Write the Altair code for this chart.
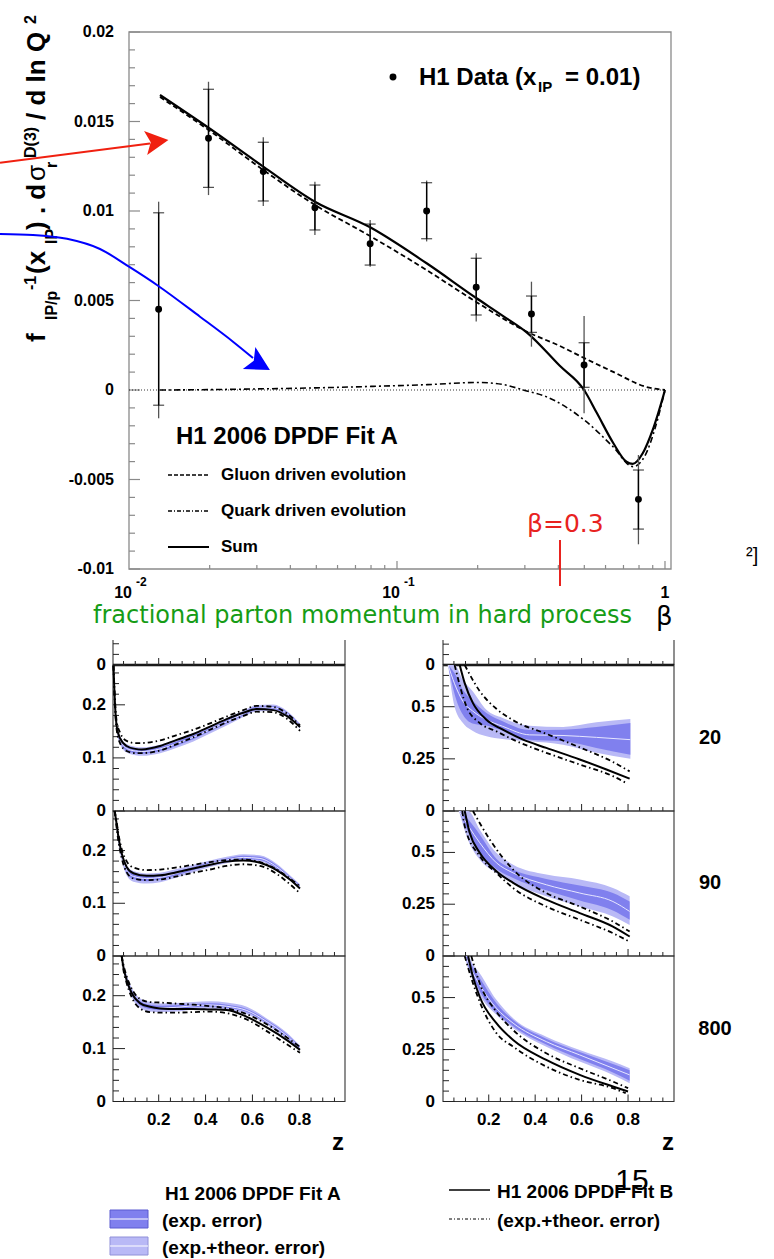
import altair as alt
import pandas as pd

# ------------------------------------------------------------------
# Upper figure: f_IP/p^-1 d sigma_r^D(3) / d ln Q^2 versus beta (x_IP = 0.01)
# ------------------------------------------------------------------
beta_data = [0.0129, 0.0198, 0.0317, 0.0494, 0.0794, 0.129, 0.1975, 0.3175, 0.499, 0.796]
slope_data = [0.00451, 0.01406, 0.01220, 0.01018, 0.00817, 0.01000, 0.00574, 0.00425, 0.00140, -0.00611]
stat_low = [-0.00085, 0.01132, 0.01056, 0.00894, 0.00698, 0.00845, 0.00419, 0.00322, 0.00015, -0.00777]
stat_high = [0.00990, 0.01680, 0.01384, 0.01145, 0.00927, 0.01158, 0.00736, 0.00525, 0.00264, -0.00447]
total_low = [-0.00158, 0.01089, 0.01028, 0.00866, 0.00689, 0.00830, 0.00382, 0.00242, -0.00130, -0.00862]
total_high = [0.01052, 0.01722, 0.01412, 0.01164, 0.00950, 0.01170, 0.00764, 0.00605, 0.00413, -0.00363]

beta_sum = [0.01305, 0.0198, 0.0317, 0.0494, 0.0794, 0.129, 0.1975, 0.249, 0.307, 0.405,
            0.499, 0.557, 0.641, 0.718, 0.758, 0.827, 0.90, 1.0]
slope_sum = [0.01648, 0.01465, 0.01248, 0.01052, 0.00909, 0.00708, 0.00514, 0.00413, 0.00318, 0.00135,
             0.0, -0.00129, -0.00296, -0.00401, -0.00413, -0.00352, -0.00223, 0.0]
beta_gluon = [0.01305, 0.0198, 0.0317, 0.0494, 0.0794, 0.129, 0.1975, 0.307, 0.405, 0.499, 0.641, 0.853, 1.0]
slope_gluon = [0.01637, 0.01453, 0.01229, 0.01034, 0.00860, 0.00670, 0.00492, 0.00324, 0.00246,
               0.00179, 0.00101, 0.00017, 0.0]
beta_quark = [0.01305, 0.02, 0.03, 0.05, 0.08, 0.13, 0.2, 0.25, 0.296, 0.36, 0.5, 0.64, 0.76, 0.84, 0.92, 1.0]
slope_quark = [0.0, 0.00002, 0.00006, 0.00012, 0.0002, 0.0003, 0.00042, 0.0003, 0.0, -0.00037,
               -0.00168, -0.00317, -0.00428, -0.0037, -0.0021, 0.0]

# ------------------------------------------------------------------
# Lower figure: z*Sigma (left) and z*g (right) at Q^2 = 20, 90, 800 GeV^2
# Fit A: central value with exp. and exp.+theor. half widths (singlet)
# ------------------------------------------------------------------
S20_z = [0.007, 0.014, 0.021, 0.035, 0.063, 0.1, 0.128, 0.206, 0.277, 0.348, 0.419, 0.49, 0.561, 0.618, 0.689, 0.746, 0.803]
S20_fitA = [0.274, 0.195, 0.157, 0.134, 0.118, 0.113, 0.112, 0.117, 0.127, 0.139, 0.153, 0.168, 0.183, 0.1935, 0.1946, 0.184, 0.160]
S20_tot = [0.001, 0.006, 0.007, 0.008, 0.008, 0.008, 0.008, 0.008, 0.008, 0.008, 0.007, 0.007, 0.006, 0.006, 0.006, 0.005, 0.005]
S20_exp = [0.001, 0.003, 0.003, 0.004, 0.004, 0.004, 0.004, 0.004, 0.004, 0.004, 0.003, 0.003, 0.003, 0.003, 0.003, 0.003, 0.003]
S20_fitB = [0.274, 0.197, 0.159, 0.137, 0.1225, 0.117, 0.116, 0.1225, 0.134, 0.145, 0.159, 0.173, 0.185, 0.192, 0.190, 0.179, 0.158]
S20_fitB_up = [0.274, 0.205, 0.168, 0.148, 0.132, 0.128, 0.128, 0.133, 0.143, 0.153, 0.165, 0.178, 0.19, 0.198, 0.196, 0.184, 0.161]
S20_fitB_dn = [0.274, 0.19, 0.152, 0.128, 0.113, 0.109, 0.109, 0.114, 0.126, 0.139, 0.153, 0.167, 0.179, 0.187, 0.186, 0.174, 0.151]

S90_z = [0.012, 0.018, 0.028, 0.042, 0.063, 0.092, 0.149, 0.206, 0.277, 0.348, 0.419, 0.49, 0.561, 0.632, 0.703, 0.76, 0.803]
S90_fitA = [0.275, 0.256, 0.222, 0.19, 0.163, 0.151, 0.147, 0.149, 0.157, 0.166, 0.175, 0.182, 0.187, 0.185, 0.169, 0.148, 0.131]
S90_tot = [0.0, 0.005, 0.008, 0.009, 0.01, 0.01, 0.0095, 0.009, 0.008, 0.007, 0.006, 0.006, 0.006, 0.006, 0.006, 0.005, 0.005]
S90_exp = [0.0, 0.003, 0.004, 0.004, 0.005, 0.005, 0.005, 0.004, 0.004, 0.003, 0.003, 0.003, 0.003, 0.003, 0.003, 0.003, 0.003]
S90_fitB = [0.275, 0.258, 0.226, 0.195, 0.169, 0.157, 0.152, 0.153, 0.159, 0.166, 0.173, 0.179, 0.181, 0.177, 0.163, 0.145, 0.128]
S90_fitB_up = [0.275, 0.262, 0.232, 0.203, 0.18, 0.168, 0.163, 0.164, 0.168, 0.173, 0.178, 0.182, 0.183, 0.178, 0.164, 0.147, 0.132]
S90_fitB_dn = [0.275, 0.252, 0.218, 0.186, 0.159, 0.147, 0.144, 0.145, 0.151, 0.158, 0.164, 0.171, 0.174, 0.171, 0.156, 0.136, 0.119]

S800_z = [0.042, 0.049, 0.063, 0.085, 0.12, 0.163, 0.206, 0.277, 0.348, 0.419, 0.49, 0.576, 0.661, 0.747, 0.803]
S800_fitA = [0.275, 0.256, 0.232, 0.206, 0.186, 0.179, 0.177, 0.178, 0.181, 0.1825, 0.18, 0.172, 0.151, 0.124, 0.1008]
S800_tot = [0.0, 0.006, 0.008, 0.009, 0.009, 0.009, 0.008, 0.008, 0.007, 0.007, 0.007, 0.007, 0.006, 0.006, 0.005]
S800_exp = [0.0, 0.003, 0.004, 0.004, 0.004, 0.004, 0.004, 0.004, 0.003, 0.003, 0.003, 0.003, 0.003, 0.003, 0.003]
S800_fitB = [0.275, 0.255, 0.23, 0.2045, 0.186, 0.179, 0.176, 0.175, 0.175, 0.174, 0.173, 0.16, 0.14, 0.116, 0.0976]
S800_fitB_up = [0.275, 0.26, 0.237, 0.213, 0.194, 0.188, 0.187, 0.185, 0.183, 0.18, 0.176, 0.165, 0.146, 0.121, 0.103]
S800_fitB_dn = [0.275, 0.25, 0.224, 0.197, 0.176, 0.169, 0.168, 0.168, 0.169, 0.17, 0.167, 0.155, 0.133, 0.108, 0.092]

# gluon: Fit A band edges, Fit B central value and its error curves
G20_zA = [0.025, 0.053, 0.089, 0.13, 0.19, 0.26, 0.376, 0.52, 0.664, 0.81]
G20_fitA = [0.70, 0.61, 0.525, 0.48, 0.4376, 0.406, 0.365, 0.362, 0.353, 0.342]
G20_tot_hi = [0.70, 0.70, 0.628, 0.575, 0.485, 0.446, 0.409, 0.403, 0.425, 0.441]
G20_tot_lo = [0.70, 0.50, 0.422, 0.385, 0.358, 0.345, 0.334, 0.318, 0.279, 0.25]
G20_exp_hi = [0.70, 0.66, 0.58, 0.53, 0.47, 0.43, 0.388, 0.39, 0.403, 0.422]
G20_exp_lo = [0.70, 0.56, 0.461, 0.42, 0.41, 0.385, 0.342, 0.334, 0.3025, 0.27]
G20_zB = [0.075, 0.0965, 0.132, 0.19, 0.261, 0.348, 0.448, 0.592, 0.707, 0.807]
G20_fitB = [0.70, 0.613, 0.517, 0.4376, 0.39, 0.342, 0.3025, 0.247, 0.199, 0.155]
G20_zup = [0.0965, 0.161, 0.233, 0.305, 0.448, 0.592, 0.735, 0.807]
G20_fitB_up = [0.70, 0.575, 0.49, 0.435, 0.37, 0.305, 0.235, 0.19]
G20_zdn = [0.053, 0.104, 0.161, 0.233, 0.305, 0.448, 0.592, 0.735, 0.79]
G20_fitB_dn = [0.70, 0.501, 0.422, 0.382, 0.342, 0.279, 0.223, 0.167, 0.1355]

G90_zA = [0.072, 0.111, 0.161, 0.233, 0.305, 0.448, 0.592, 0.735, 0.807]
G90_fitA = [0.70, 0.63, 0.547, 0.45, 0.401, 0.344, 0.304, 0.263, 0.215]
G90_tot_hi = [0.70, 0.70, 0.611, 0.498, 0.441, 0.393, 0.369, 0.328, 0.288]
G90_tot_lo = [0.70, 0.56, 0.466, 0.401, 0.353, 0.288, 0.239, 0.191, 0.15]
G90_exp_hi = [0.70, 0.66, 0.587, 0.47, 0.417, 0.372, 0.34, 0.304, 0.263]
G90_exp_lo = [0.70, 0.60, 0.498, 0.42, 0.377, 0.317, 0.268, 0.22, 0.175]
G90_zB = [0.0965, 0.118, 0.161, 0.233, 0.305, 0.448, 0.592, 0.735, 0.807]
G90_fitB = [0.70, 0.595, 0.498, 0.409, 0.353, 0.272, 0.207, 0.142, 0.094]
G90_zup = [0.132, 0.204, 0.305, 0.448, 0.592, 0.735, 0.807]
G90_fitB_up = [0.70, 0.563, 0.417, 0.304, 0.239, 0.166, 0.118]
G90_zdn = [0.086, 0.0965, 0.161, 0.233, 0.305, 0.448, 0.592, 0.735, 0.807]
G90_fitB_dn = [0.70, 0.627, 0.482, 0.401, 0.328, 0.239, 0.175, 0.110, 0.069]

G800_zA = [0.0965, 0.111, 0.132, 0.161, 0.233, 0.305, 0.448, 0.592, 0.735, 0.807]
G800_fitA = [0.70, 0.67, 0.62, 0.561, 0.449, 0.377, 0.288, 0.224, 0.16, 0.128]
G800_tot_hi = [0.70, 0.70, 0.66, 0.617, 0.489, 0.401, 0.312, 0.248, 0.192, 0.16]
G800_tot_lo = [0.70, 0.64, 0.585, 0.513, 0.417, 0.353, 0.264, 0.192, 0.128, 0.088]
G800_exp_hi = [0.70, 0.69, 0.645, 0.594, 0.473, 0.392, 0.302, 0.238, 0.18, 0.15]
G800_exp_lo = [0.70, 0.655, 0.60, 0.532, 0.428, 0.362, 0.274, 0.205, 0.14, 0.10]
G800_zB = [0.111, 0.132, 0.161, 0.233, 0.305, 0.448, 0.592, 0.735, 0.80]
G800_fitB = [0.70, 0.60, 0.504, 0.377, 0.296, 0.2, 0.128, 0.072, 0.048]
G800_zup = [0.125, 0.161, 0.233, 0.305, 0.448, 0.592, 0.735, 0.80]
G800_fitB_up = [0.70, 0.569, 0.432, 0.344, 0.232, 0.16, 0.096, 0.064]
G800_zdn = [0.0965, 0.132, 0.161, 0.233, 0.305, 0.448, 0.592, 0.735, 0.79]
G800_fitB_dn = [0.70, 0.569, 0.48, 0.329, 0.264, 0.168, 0.104, 0.064, 0.04]

Q2_labels = ["20", "90", "800"]

# ------------------------------------------------------------------
# styling and layout
# ------------------------------------------------------------------
W, H = 774, 1259
SANS = "Liberation Sans"
LIGHT = "#b9b9f6"
DARK = "#8080ee"
CENTRE = "#e6e6ff"
DASHDOT = [5, 3, 1.5, 3]
FRAME_GREY = "#8a8a8a"


def lin(dom, rng):
    return alt.Scale(type="linear", domain=dom, range=rng, nice=False, zero=False)


TOP_X = alt.Scale(type="log", domain=[0.01, 1.053], range=[129, 671], nice=False)
TOP_Y = lin([-0.01, 0.02], [569, 32])
PAGE_X = lin([0, W], [0, W])
PAGE_Y = lin([0, H], [0, H])

COL_XDOM = {"S": [0.005, 0.995], "G": [0.003, 0.998]}
COL_XPIX = {"S": [113, 345], "G": [443, 674]}
COL_YMAX = {"S": 0.275, "G": 0.70}
ROW_EDGES = [519, 665, 811, 956, 1101.5]


def col_x(c):
    return lin(COL_XDOM[c], COL_XPIX[c])


def row_y(c, r):
    return lin([0, COL_YMAX[c]], [ROW_EDGES[r + 1], ROW_EDGES[r]])


def qx(field, scale):
    return alt.X(field, type="quantitative", scale=scale, axis=None)


def qy(field, scale):
    return alt.Y(field, type="quantitative", scale=scale, axis=None)


def line(df, xs, ys, color="black", width=1.5, dash=None, xf="x", yf="y", interp="monotone"):
    kw = dict(color=color, strokeWidth=width, interpolate=interp)
    if dash:
        kw["strokeDash"] = dash
    return alt.Chart(df).mark_line(**kw).encode(x=qx(xf, xs), y=qy(yf, ys), order="i:Q")


def page_line(points, **kw):
    df = pd.DataFrame({"x": [p[0] for p in points], "y": [p[1] for p in points], "i": list(range(len(points)))})
    return line(df, PAGE_X, PAGE_Y, **kw)


def page_text(items, size, weight="bold", color="black", font=SANS, angle=0, align="left", baseline="alphabetic"):
    df = pd.DataFrame({"x": [t[0] for t in items], "y": [t[1] for t in items], "t": [t[2] for t in items]})
    kw = dict(fontSize=size, fontWeight=weight, color=color, font=font, align=align, baseline=baseline)
    if angle:
        kw["angle"] = angle
    return alt.Chart(df).mark_text(**kw).encode(x=qx("x", PAGE_X), y=qy("y", PAGE_Y), text="t:N")


layers = []

# ---------------- upper figure ----------------
frame_top = pd.DataFrame({"x0": [0.01], "x1": [1.053], "y0": [-0.01], "y1": [0.02]})
layers.append(alt.Chart(frame_top).mark_rect(filled=False, color=FRAME_GREY, strokeWidth=1.3).encode(
    x=qx("x0", TOP_X), x2="x1", y=qy("y0", TOP_Y), y2="y1"))

top_ymajor = [-0.01, -0.005, 0.0, 0.005, 0.01, 0.015, 0.02]
top_yminor = [round(-0.01 + 0.001 * k, 3) for k in range(31) if k % 5]
top_xmajor = [0.1, 1.0]
top_xminor = [0.02, 0.03, 0.04, 0.05, 0.06, 0.07, 0.08, 0.09, 0.2, 0.3, 0.4, 0.5, 0.6, 0.7, 0.8, 0.9]
for vals, ln in ((top_ymajor, 11), (top_yminor, 6)):
    layers.append(alt.Chart(pd.DataFrame({"v": vals})).mark_rule(color=FRAME_GREY, strokeWidth=1.2).encode(
        y=qy("v", TOP_Y), x=alt.value(129), x2=alt.value(129 + ln)))
for vals, ln in ((top_xmajor, 8), (top_xminor, 4)):
    layers.append(alt.Chart(pd.DataFrame({"v": vals})).mark_rule(color=FRAME_GREY, strokeWidth=1.2).encode(
        x=qx("v", TOP_X), y=alt.value(569), y2=alt.value(569 - ln)))

top_ylabels = pd.DataFrame({"v": top_ymajor, "t": ["-0.01", "-0.005", "0", "0.005", "0.01", "0.015", "0.02"]})
layers.append(alt.Chart(top_ylabels).mark_text(font=SANS, fontWeight="bold", fontSize=16, align="right",
                                               baseline="middle").encode(
    y=qy("v", TOP_Y), x=alt.value(114), text="t:N"))
decades = pd.DataFrame({"v": [0.01, 0.1], "t": ["10", "10"], "e": ["-2", "-1"]})
layers.append(alt.Chart(decades).mark_text(font=SANS, fontWeight="bold", fontSize=16, align="right",
                                           baseline="middle", dx=3).encode(
    x=qx("v", TOP_X), y=alt.value(593), text="t:N"))
layers.append(alt.Chart(decades).mark_text(font=SANS, fontWeight="bold", fontSize=12, align="left",
                                           baseline="middle", dx=7).encode(
    x=qx("v", TOP_X), y=alt.value(582), text="e:N"))
layers.append(alt.Chart(pd.DataFrame({"v": [1.0], "t": ["1"]})).mark_text(
    font=SANS, fontWeight="bold", fontSize=16, align="center", baseline="middle").encode(
    x=qx("v", TOP_X), y=alt.value(593), text="t:N"))

# zero reference line
zero_df = pd.DataFrame({"x": [0.01, 1.0], "y": [0.0, 0.0], "i": [0, 1]})
layers.append(line(zero_df, TOP_X, TOP_Y, width=0.8, dash=[1, 2], interp="linear"))

# fit curves
def top_curve(b, v, **kw):
    df = pd.DataFrame({"x": b, "y": v, "i": list(range(len(b)))})
    return line(df, TOP_X, TOP_Y, **kw)


layers.append(top_curve(beta_quark, slope_quark, width=1.6, dash=[6, 3, 2, 3]))
layers.append(top_curve(beta_gluon, slope_gluon, width=1.8, dash=[5, 3]))
layers.append(top_curve(beta_sum, slope_sum, width=2.2))

# data points with inner (stat.) and outer (total) error bars
pts = pd.DataFrame({"beta": beta_data, "v": slope_data, "slo": stat_low, "shi": stat_high,
                    "tlo": total_low, "thi": total_high})
base = alt.Chart(pts)
layers.append(base.mark_rule(color="#555555", strokeWidth=1.3).encode(
    x=qx("beta", TOP_X), y=qy("tlo", TOP_Y), y2="thi"))
layers.append(base.mark_rule(color="black", strokeWidth=1.4).encode(
    x=qx("beta", TOP_X), y=qy("slo", TOP_Y), y2="shi"))
for f in ("slo", "shi"):
    layers.append(base.mark_tick(color="black", orient="horizontal", size=11, thickness=1.2).encode(
        x=qx("beta", TOP_X), y=qy(f, TOP_Y)))
layers.append(base.mark_circle(color="black", size=48, opacity=1).encode(
    x=qx("beta", TOP_X), y=qy("v", TOP_Y)))

# legend inside the upper frame
layers.append(alt.Chart(pd.DataFrame({"x": [393], "y": [77]})).mark_circle(color="black", size=48, opacity=1).encode(
    x=qx("x", PAGE_X), y=qy("y", PAGE_Y)))
layers.append(page_text([(419, 85, "H1 Data (x"), (565, 85, "= 0.01)")], 24))
layers.append(page_text([(538, 92, "IP")], 15))
layers.append(page_text([(176, 444, "H1 2006 DPDF Fit A")], 24))
layers.append(page_text([(221, 480, "Gluon driven evolution"), (221, 516, "Quark driven evolution"),
                         (221, 552, "Sum")], 17))
layers.append(page_line([(168, 475), (209, 475)], width=1.4, dash=[4, 2], interp="linear"))
layers.append(page_line([(168, 511), (209, 511)], width=1.4, dash=[4, 2, 1, 2], interp="linear"))
layers.append(page_line([(168, 547), (209, 547)], width=1.8, interp="linear"))

# rotated y title with sub/superscripts
layers.append(page_text([(45, 342, "f"), (45, 274, "(x"), (45, 230, ") . d"), (45, 120, "/ d ln Q")], 26, angle=270))
layers.append(page_text([(45, 181, "σ")], 26, weight="normal", angle=270))
layers.append(page_text([(57, 320, "IP/p"), (57, 244, "IP"), (57, 168, "r")], 16, angle=270))
layers.append(page_text([(36, 290, "-1"), (36, 158, "D(3)"), (36, 24, "2")], 16, angle=270))

# ---------------- lower figure ----------------
for c in ("S", "G"):
    x0, x1 = COL_XDOM[c]
    ymax = COL_YMAX[c]
    xs = col_x(c)
    ymajor = [0.0, 0.1, 0.2] if c == "S" else [0.0, 0.25, 0.5]
    yminor = ([0.02, 0.04, 0.06, 0.08, 0.12, 0.14, 0.16, 0.18, 0.22, 0.24, 0.26] if c == "S"
              else [0.05, 0.1, 0.15, 0.2, 0.3, 0.35, 0.4, 0.45, 0.55, 0.6, 0.65])
    ylabels = ["0", "0.1", "0.2"] if c == "S" else ["0", "0.25", "0.5"]
    xleft = COL_XPIX[c][0]
    label_x = 106 if c == "S" else 435
    for r in range(4):
        ys = row_y(c, r)
        top = ymax if r else ymax * 25 / 146
        if r:
            frame = pd.DataFrame({"x0": [x0], "x1": [x1], "y0": [0.0], "y1": [ymax]})
            layers.append(alt.Chart(frame).mark_rect(filled=False, color="#333333", strokeWidth=1.1).encode(
                x=qx("x0", xs), x2="x1", y=qy("y0", ys), y2="y1"))
        else:
            sides = pd.DataFrame({"x": [x0, x1], "y0": [0.0, 0.0], "y1": [top, top]})
            layers.append(alt.Chart(sides).mark_rule(color="#333333", strokeWidth=1.1).encode(
                x=qx("x", xs), y=qy("y0", ys), y2="y1"))
            base_line = pd.DataFrame({"x0": [x0], "x1": [x1], "y": [0.0]})
            layers.append(alt.Chart(base_line).mark_rule(color="black", strokeWidth=2.5).encode(
                x=qx("x0", xs), x2="x1", y=qy("y", ys)))
        for vals, ln in ((ymajor, 12), (yminor, 6)):
            vv = [v for v in vals if v < top]
            layers.append(alt.Chart(pd.DataFrame({"v": vv})).mark_rule(color="#222222", strokeWidth=1).encode(
                y=qy("v", ys), x=alt.value(xleft), x2=alt.value(xleft + ln)))
        lab = [(v, t) for v, t in zip(ymajor, ylabels) if v < top]
        layers.append(alt.Chart(pd.DataFrame({"v": [a for a, _ in lab], "t": [b for _, b in lab]})).mark_text(
            font=SANS, fontWeight="bold", fontSize=17, align="right", baseline="middle").encode(
            y=qy("v", ys), x=alt.value(label_x), text="t:N"))
        bottom = ROW_EDGES[r + 1]
        for vals, ln in (([0.2, 0.4, 0.6, 0.8], 7),
                         ([0.05, 0.1, 0.15, 0.25, 0.3, 0.35, 0.45, 0.5, 0.55, 0.65, 0.7, 0.75, 0.85, 0.9, 0.95], 4)):
            layers.append(alt.Chart(pd.DataFrame({"v": vals})).mark_rule(color="#222222", strokeWidth=1).encode(
                x=qx("v", xs), y=alt.value(bottom), y2=alt.value(bottom - ln)))
    layers.append(alt.Chart(pd.DataFrame({"v": [0.2, 0.4, 0.6, 0.8], "t": ["0.2", "0.4", "0.6", "0.8"]})).mark_text(
        font=SANS, fontWeight="bold", fontSize=17, align="center", baseline="middle").encode(
        x=qx("v", xs), y=alt.value(1120), text="t:N"))


def panel(c, r, zA, centre, tlo, thi, elo, ehi, zB, fitB, zup, up, zdn, dn):
    xs, ys = col_x(c), row_y(c, r)
    out = []
    for lo, hi, colr in ((tlo, thi, LIGHT), (elo, ehi, DARK)):
        df = pd.DataFrame({"z": zA, "lo": lo, "hi": hi})
        out.append(alt.Chart(df).mark_area(color=colr, interpolate="monotone", orient="vertical").encode(
            x=qx("z", xs), y=qy("lo", ys), y2="hi"))
    mk = lambda z, v: pd.DataFrame({"x": z, "y": v, "i": list(range(len(z)))})
    out.append(line(mk(zA, centre), xs, ys, color=CENTRE, width=1))
    out.append(line(mk(zup, up), xs, ys, width=1.8, dash=DASHDOT))
    out.append(line(mk(zdn, dn), xs, ys, width=1.8, dash=DASHDOT))
    out.append(line(mk(zB, fitB), xs, ys, width=2))
    return out


def singlet(r, z, centre, tot, exp, fitB, up, dn):
    tlo = [a - b for a, b in zip(centre, tot)]
    thi = [a + b for a, b in zip(centre, tot)]
    elo = [a - b for a, b in zip(centre, exp)]
    ehi = [a + b for a, b in zip(centre, exp)]
    return panel("S", r, z, centre, tlo, thi, elo, ehi, z, fitB, z, up, z, dn)


layers += singlet(1, S20_z, S20_fitA, S20_tot, S20_exp, S20_fitB, S20_fitB_up, S20_fitB_dn)
layers += singlet(2, S90_z, S90_fitA, S90_tot, S90_exp, S90_fitB, S90_fitB_up, S90_fitB_dn)
layers += singlet(3, S800_z, S800_fitA, S800_tot, S800_exp, S800_fitB, S800_fitB_up, S800_fitB_dn)
layers += panel("G", 1, G20_zA, G20_fitA, G20_tot_lo, G20_tot_hi, G20_exp_lo, G20_exp_hi,
                G20_zB, G20_fitB, G20_zup, G20_fitB_up, G20_zdn, G20_fitB_dn)
layers += panel("G", 2, G90_zA, G90_fitA, G90_tot_lo, G90_tot_hi, G90_exp_lo, G90_exp_hi,
                G90_zB, G90_fitB, G90_zup, G90_fitB_up, G90_zdn, G90_fitB_dn)
layers += panel("G", 3, G800_zA, G800_fitA, G800_tot_lo, G800_tot_hi, G800_exp_lo, G800_exp_hi,
                G800_zB, G800_fitB, G800_zup, G800_fitB_up, G800_zdn, G800_fitB_dn)

# Q^2 row labels and z titles
layers.append(page_text([(710, 738, Q2_labels[0]), (710, 883, Q2_labels[1]), (715, 1029, Q2_labels[2])], 20,
                        align="center", baseline="middle"))
layers.append(page_text([(338, 1143, "z"), (668, 1143, "z")], 24, align="center", baseline="middle"))

# lower legend
layers.append(page_text([(165, 1200, "H1 2006 DPDF Fit A"), (497, 1198, "H1 2006 DPDF Fit B")], 19))
layers.append(page_text([(162, 1227, "(exp. error)"), (162, 1254, "(exp.+theor. error)"),
                         (497, 1227, "(exp.+theor. error)")], 19))
boxes = pd.DataFrame({"x0": [110, 110], "x1": [148, 148], "y0": [1210, 1237], "y1": [1228, 1255],
                      "k": ["exp", "tot"]})
layers.append(alt.Chart(boxes).mark_rect(strokeWidth=1).encode(
    x=qx("x0", PAGE_X), x2="x1", y=qy("y0", PAGE_Y), y2="y1",
    fill=alt.Fill("k:N", scale=alt.Scale(domain=["exp", "tot"], range=[DARK, LIGHT]), legend=None),
    stroke=alt.Stroke("k:N", scale=alt.Scale(domain=["exp", "tot"], range=["#5a5ad0", "#9090d8"]), legend=None)))
layers.append(page_line([(110, 1219), (148, 1219)], color="white", width=1, interp="linear"))
layers.append(page_line([(110, 1246), (148, 1246)], color="white", width=1, interp="linear"))
layers.append(page_line([(449, 1190), (490, 1190)], width=1.4, interp="linear"))
layers.append(page_line([(449, 1219), (490, 1219)], width=1, dash=[3, 2, 1, 2], interp="linear"))
layers.append(page_text([(632, 1190, "15")], 30, weight="normal", align="center"))

# slide annotations
layers.append(page_text([(93, 623, "fractional parton momentum in hard process")], 24, weight="normal",
                        color="#169c16", font="DejaVu Sans"))
layers.append(page_text([(656, 625, "β")], 26, weight="normal", font="DejaVu Sans"))
layers.append(page_text([(527, 532, "β=0.3")], 25, weight="normal", color="#e8231f", font="DejaVu Sans"))
layers.append(page_line([(560, 540), (560, 586)], color="#e8231f", width=2, interp="linear"))
layers.append(page_text([(746, 562, "²]")], 20, weight="normal"))

ARROW = "M 1 0 L -1 -1.05 L -0.55 0 L -1 1.05 Z"
layers.append(page_line([(0, 162.7), (150, 143.5)], color="#f02010", width=2, interp="linear"))
layers.append(page_line([(0, 234), (33, 235), (67, 238.8), (100, 249), (129, 266.7), (158, 285.7),
                         (200, 316.7), (233, 341.7), (253, 358)], color="#0000ff", width=2))
heads = [((157, 141.5), 352.6, "#f02010", 529), ((259.5, 364), 29.7, "#0000ff", 576)]
for (hx, hy), ang, colr, sz in heads:
    layers.append(alt.Chart(pd.DataFrame({"x": [hx], "y": [hy]})).mark_point(
        shape=ARROW, angle=ang, size=sz, filled=True, color=colr, opacity=1, strokeWidth=0).encode(
        x=qx("x", PAGE_X), y=qy("y", PAGE_Y)))

chart = alt.layer(*layers).resolve_scale(x="independent", y="independent").properties(
    width=W, height=H, autosize="none", padding=0, background="white"
).configure_view(stroke=None)

chart.save("out.html", embed_options={"renderer": "svg", "actions": False})
